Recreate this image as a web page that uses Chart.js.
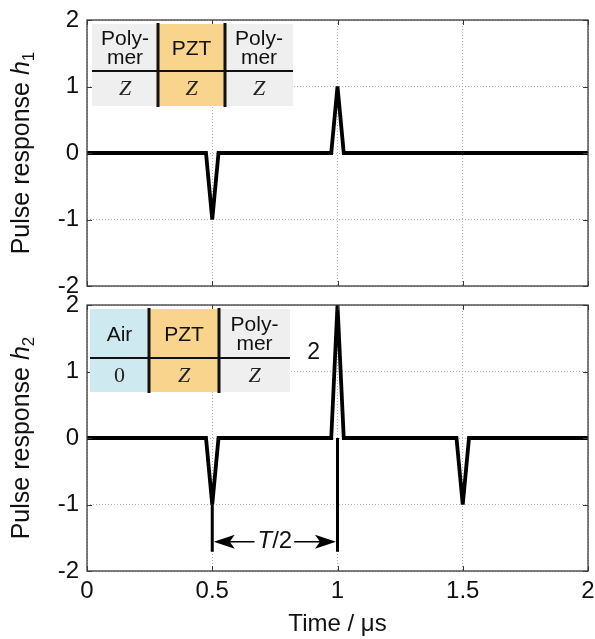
<!DOCTYPE html>
<html><head><meta charset="utf-8">
<script src="https://cdn.jsdelivr.net/npm/chart.js@4.4.1/dist/chart.umd.min.js"></script>
<style>
html,body{margin:0;padding:0;background:#fff;}
#wrap{position:relative;width:595px;height:639px;overflow:hidden;background:#fff;}
canvas{position:absolute;left:0;}
#c1{top:0;}
#c2{top:288px;}
</style></head><body>
<div id="wrap">
<canvas id="c1" width="595" height="300"></canvas>
<canvas id="c2" width="595" height="351"></canvas>
</div>
<script>
// ---------- data ----------
const timeTicks = [0, 0.5, 1, 1.5, 2];
const yTicks = [-2, -1, 0, 1, 2];
const timesH1 = [0, 0.475, 0.5, 0.525, 0.975, 1, 1.025, 2];
const h1 = [0, 0, -1, 0, 0, 1, 0, 0];
const timesH2 = [0, 0.475, 0.5, 0.525, 0.975, 1, 1.025, 1.475, 1.5, 1.525, 2];
const h2 = [0, 0, -1, 0, 0, 2, 0, 0, -1, 0, 0];
const markerTimes = [0.5, 1];
const markerTops = [-1, 0];
const markerBottom = -1.71;
const arrowLevel = -1.56;
const peakLabelX = 0.905;
const peakLabelY = 1.29;
const peakLabel = '2';
const layers1 = ['Poly-\nmer', 'PZT', 'Poly-\nmer'];
const imped1 = ['Z', 'Z', 'Z'];
const layers2 = ['Air', 'PZT', 'Poly-\nmer'];
const imped2 = ['0', 'Z', 'Z'];
const xTitle = 'Time / \u03bcs';
const yTitleBase = 'Pulse response ';

// ---------- helpers ----------
const SANS = '"Liberation Sans", Arial, sans-serif';
const SERIF = '"Liberation Serif", "Times New Roman", serif';
const GRAY = '#efefef', ORANGE = '#f9d48c', BLUE = '#cfe9f0';

function toPts(xs, ys){ return xs.map((x,i)=>({x:x, y:ys[i]})); }

const framePlugin = {
  id:'frame',
  afterDatasetsDraw(chart){
    const ctx = chart.ctx, a = chart.chartArea, sx = chart.scales.x, sy = chart.scales.y;
    ctx.save();
    ctx.strokeStyle = '#3a3a3a';
    ctx.lineWidth = 1.3;
    ctx.strokeRect(a.left, a.top, a.right - a.left, a.bottom - a.top);
    ctx.lineWidth = 1;
    const L = 5;
    ctx.beginPath();
    timeTicks.forEach(t=>{
      const px = Math.round(sx.getPixelForValue(t)) + 0.5;
      ctx.moveTo(px, a.top); ctx.lineTo(px, a.top + L);
      ctx.moveTo(px, a.bottom); ctx.lineTo(px, a.bottom - L);
    });
    yTicks.forEach(v=>{
      const py = Math.round(sy.getPixelForValue(v)) + 0.5;
      ctx.moveTo(a.left, py); ctx.lineTo(a.left + L, py);
      ctx.moveTo(a.right, py); ctx.lineTo(a.right - L, py);
    });
    ctx.stroke();
    ctx.restore();
  }
};

function drawYTitle(chart, sub){
  const ctx = chart.ctx, a = chart.chartArea;
  const cy = (a.top + a.bottom) / 2;
  ctx.save();
  ctx.translate(22, cy);
  ctx.rotate(-Math.PI/2);
  ctx.fillStyle = '#111';
  ctx.textBaseline = 'middle';
  ctx.font = '25px ' + SANS;
  const w1 = ctx.measureText(yTitleBase).width;
  ctx.font = 'italic 25px ' + SANS;
  const w2 = ctx.measureText('h').width;
  ctx.font = '17px ' + SANS;
  const w3 = ctx.measureText(sub).width;
  const total = w1 + w2 + w3;
  let x = -total/2;
  ctx.textAlign = 'left';
  ctx.font = '25px ' + SANS;
  ctx.fillText(yTitleBase, x, 0); x += w1;
  ctx.font = 'italic 25px ' + SANS;
  ctx.fillText('h', x, 0); x += w2;
  ctx.font = '17px ' + SANS;
  ctx.fillText(sub, x, 7);
  ctx.restore();
}

function drawInset(ctx, box, labels, vals){
  const {x0, x1, y0, y1, xs, ym} = box;
  const cols = [x0, xs[0], xs[1], x1];
  const fills = box.fills;
  for (let i=0;i<3;i++){
    ctx.fillStyle = fills[i];
    ctx.fillRect(cols[i], y0, cols[i+1]-cols[i], y1-y0);
  }
  ctx.strokeStyle = '#111';
  ctx.lineWidth = 2;
  ctx.beginPath(); ctx.moveTo(x0, ym); ctx.lineTo(x1, ym); ctx.stroke();
  ctx.lineWidth = 3;
  ctx.beginPath();
  xs.forEach(x=>{ ctx.moveTo(x, y0-1); ctx.lineTo(x, y1+1); });
  ctx.stroke();
  ctx.textAlign = 'center';
  ctx.textBaseline = 'middle';
  for (let i=0;i<3;i++){
    const cx = (cols[i]+cols[i+1])/2;
    const hc = (y0+ym)/2 + 1.5;
    const lines = labels[i].split('\n');
    ctx.fillStyle = '#111';
    ctx.font = '21px ' + SANS;
    if (lines.length === 1) ctx.fillText(lines[0], cx, hc);
    else { ctx.fillText(lines[0], cx, hc - 9.5); ctx.fillText(lines[1], cx, hc + 9.5); }
    const vc = (ym+y1)/2 + 1;
    ctx.fillStyle = '#222';
    ctx.font = (vals[i]==='Z' ? 'italic ' : '') + '22px ' + SERIF;
    ctx.fillText(vals[i], cx, vc);
  }
}

function commonOptions(showX){
  return {
    responsive:false,
    devicePixelRatio:1,
    animation:false,
    events:[],
    plugins:{legend:{display:false}, tooltip:{enabled:false}},
    scales:{
      x:{
        type:'linear', min:0, max:2,
        afterBuildTicks(s){ s.ticks = timeTicks.map(v=>({value:v})); },
        grid:{color:'#b0b0b0', lineWidth:1, drawTicks:true, tickLength:8, tickColor:'rgba(0,0,0,0)'},
        border:{display:false, dash:[1,2]},
        ticks:{display:showX, padding:0, color:'#111', font:{family:SANS, size:24, lineHeight:1}, callback:v=>String(v), maxRotation:0, autoSkip:false},
        title:{display:showX, text:xTitle, color:'#111', font:{family:SANS, size:24}, padding:{top:0,bottom:0}},
        afterFit(s){ s.height = showX ? 68 : 14; }
      },
      y:{
        type:'linear', min:-2, max:2,
        afterBuildTicks(s){ s.ticks = yTicks.map(v=>({value:v})); },
        grid:{color:'#b0b0b0', lineWidth:1, drawTicks:true, tickLength:8, tickColor:'rgba(0,0,0,0)'},
        border:{display:false, dash:[1,2]},
        ticks:{padding:0, color:'#111', font:{family:SANS, size:24, lineHeight:1}, callback:v=>String(v)},
        afterFit(s){ s.width = 87; }
      }
    }
  };
}

function lineDataset(xs, ys){
  return {data:toPts(xs, ys), borderColor:'#000', borderWidth:3.8, pointRadius:0, tension:0, fill:false, borderJoinStyle:'miter', borderCapStyle:'butt'};
}

// ---------- top chart ----------
const opt1 = commonOptions(false);
opt1.layout = {padding:{top:20, right:7, left:0, bottom:0}};
new Chart(document.getElementById('c1'), {
  type:'line',
  data:{datasets:[lineDataset(timesH1, h1)]},
  options:opt1,
  plugins:[framePlugin, {
    id:'extras1',
    afterDraw(chart){
      const ctx = chart.ctx, a = chart.chartArea;
      ctx.save();
      drawInset(ctx, {x0:a.left+5, x1:a.left+206, y0:a.top+4, y1:a.top+86, xs:[a.left+71, a.left+138], ym:a.top+51, fills:[GRAY, ORANGE, GRAY]}, layers1, imped1);
      ctx.restore();
      drawYTitle(chart, '1');
    }
  }]
});

// ---------- bottom chart ----------
const opt2 = commonOptions(true);
opt2.layout = {padding:{top:17, right:7, left:0, bottom:0}};
new Chart(document.getElementById('c2'), {
  type:'line',
  data:{datasets:[lineDataset(timesH2, h2)]},
  options:opt2,
  plugins:[framePlugin, {
    id:'extras2',
    afterDraw(chart){
      const ctx = chart.ctx, a = chart.chartArea, sx = chart.scales.x, sy = chart.scales.y;
      ctx.save();
      drawInset(ctx, {x0:a.left+3, x1:a.left+203, y0:a.top+4, y1:a.top+87, xs:[a.left+62, a.left+132], ym:a.top+53, fills:[BLUE, ORANGE, GRAY]}, layers2, imped2);
      // marker verticals
      ctx.strokeStyle = '#000';
      ctx.lineWidth = 3;
      ctx.beginPath();
      markerTimes.forEach((t,i)=>{
        const px = sx.getPixelForValue(t);
        ctx.moveTo(px, sy.getPixelForValue(markerTops[i]));
        ctx.lineTo(px, sy.getPixelForValue(markerBottom));
      });
      ctx.stroke();
      // arrow
      const xl = sx.getPixelForValue(markerTimes[0]) + 1.5;
      const xr = sx.getPixelForValue(markerTimes[1]) - 1.5;
      const ya = sy.getPixelForValue(arrowLevel);
      const xc = (xl + xr) / 2;
      ctx.font = 'italic 24px ' + SANS;
      const wT = ctx.measureText('T').width;
      ctx.font = '24px ' + SANS;
      const wR = ctx.measureText('/2').width;
      const tw = wT + wR;
      const tx0 = xc - tw/2;
      ctx.fillStyle = '#111';
      ctx.textBaseline = 'middle';
      ctx.textAlign = 'left';
      ctx.font = 'italic 24px ' + SANS;
      ctx.fillText('T', tx0, ya);
      ctx.font = '24px ' + SANS;
      ctx.fillText('/2', tx0 + wT, ya);
      ctx.lineWidth = 1.5;
      ctx.beginPath();
      ctx.moveTo(xl + 14, ya); ctx.lineTo(tx0 - 3, ya);
      ctx.moveTo(tx0 + tw + 2, ya); ctx.lineTo(xr - 14, ya);
      ctx.stroke();
      ctx.fillStyle = '#000';
      ctx.beginPath();
      ctx.moveTo(xl, ya); ctx.lineTo(xl + 21, ya - 7); ctx.lineTo(xl + 16, ya); ctx.lineTo(xl + 21, ya + 7); ctx.closePath();
      ctx.moveTo(xr, ya); ctx.lineTo(xr - 21, ya - 7); ctx.lineTo(xr - 16, ya); ctx.lineTo(xr - 21, ya + 7); ctx.closePath();
      ctx.fill();
      // peak label
      ctx.fillStyle = '#111';
      ctx.textAlign = 'center';
      ctx.font = '23px ' + SANS;
      ctx.fillText(peakLabel, sx.getPixelForValue(peakLabelX), sy.getPixelForValue(peakLabelY));
      ctx.restore();
      drawYTitle(chart, '2');
    }
  }]
});
</script>
</body></html>
